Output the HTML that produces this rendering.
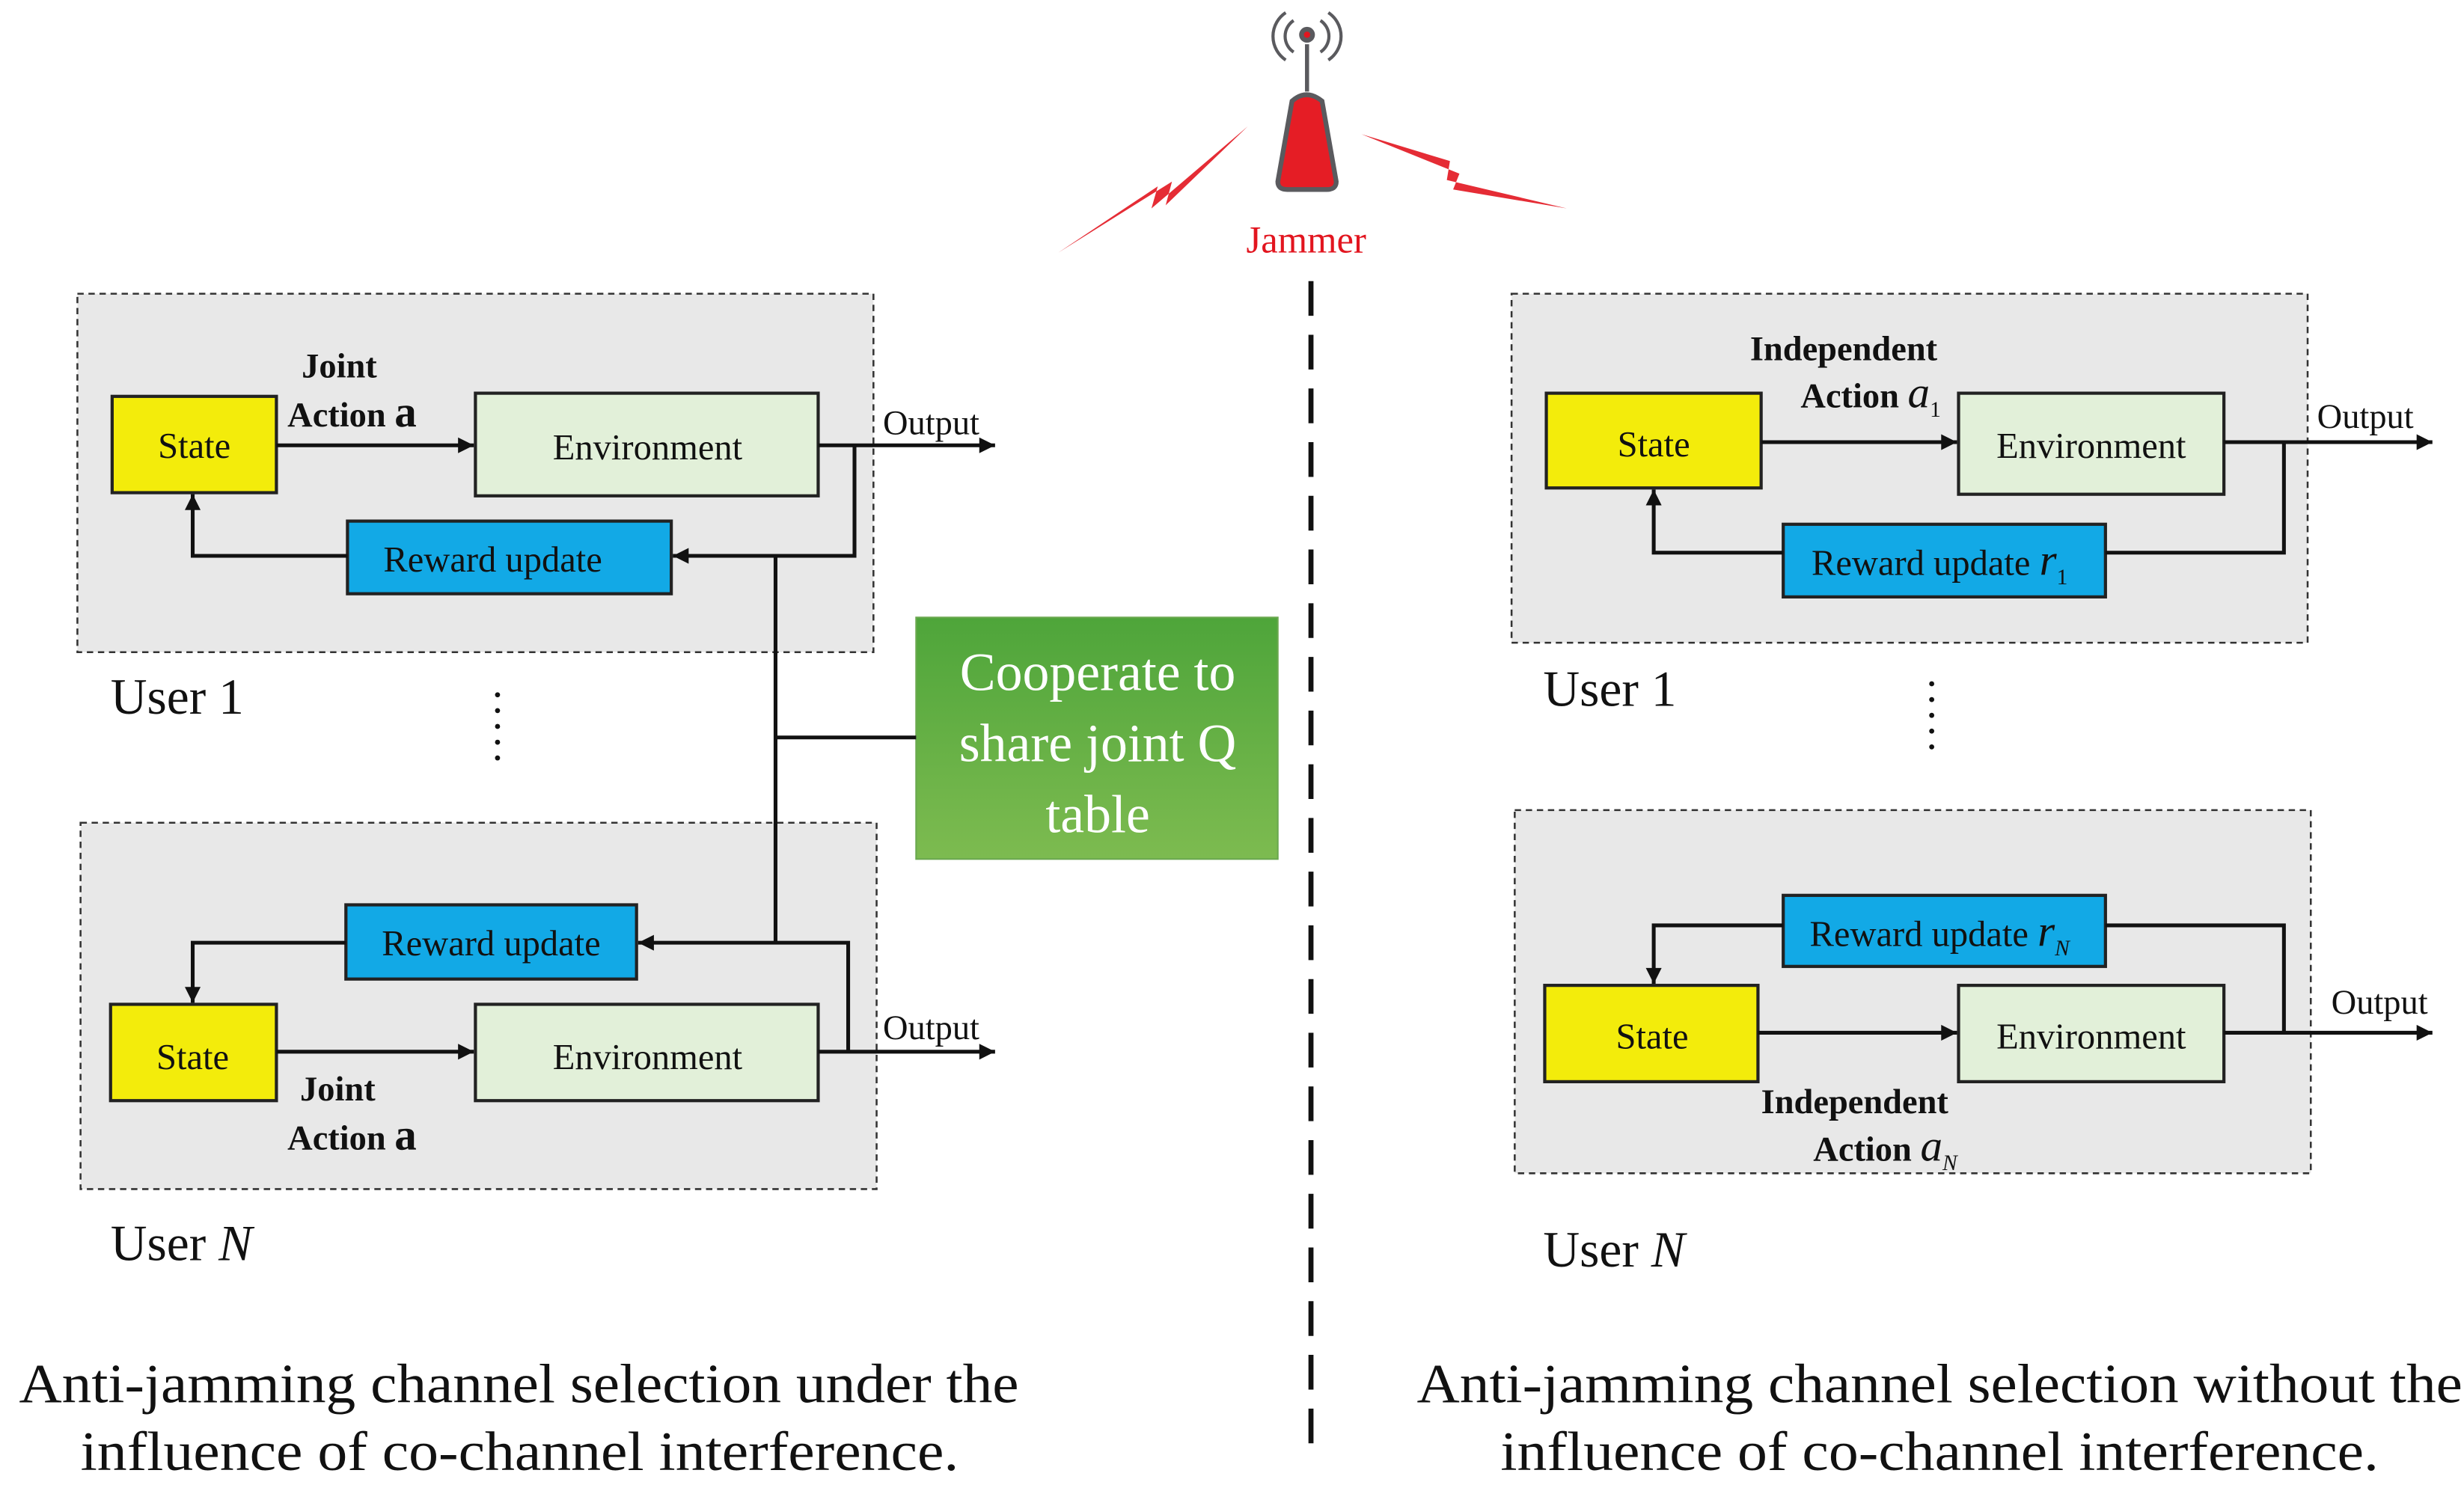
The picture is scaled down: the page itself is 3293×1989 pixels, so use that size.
<!DOCTYPE html>
<html><head><meta charset="utf-8"><style>html,body{margin:0;padding:0;background:#fff}svg{display:block}</style></head>
<body>
<svg width="3293" height="1989" viewBox="0 0 1560 942.3" preserveAspectRatio="none" xmlns="http://www.w3.org/2000/svg" font-family="Liberation Serif, serif">
<defs>
<marker id="ar" viewBox="0 0 10 10" refX="10" refY="5" markerWidth="12" markerHeight="10" markerUnits="userSpaceOnUse" orient="auto"><path d="M0,0L10,5L0,10z" fill="#111"/></marker>
<linearGradient id="gg" x1="0" y1="0" x2="0" y2="1"><stop offset="0" stop-color="#4ea53a"/><stop offset="1" stop-color="#7dbb50"/></linearGradient>
</defs>
<g stroke="#333" stroke-width="1.2" stroke-dasharray="4 3" fill="#e8e8e8">
<rect x="49" y="186" width="504" height="227"/>
<rect x="51" y="521" width="504" height="232"/>
<rect x="957" y="186" width="504" height="221"/>
<rect x="959" y="513" width="504" height="230"/>
</g>
<g stroke="#222" stroke-width="2">
<rect x="71" y="251" width="104" height="61" fill="#f3ec0b"/>
<rect x="301" y="249" width="217" height="65" fill="#e2f0d9"/>
<rect x="220" y="330" width="205" height="46" fill="#12a9e6"/>
<rect x="70" y="636" width="105" height="61" fill="#f3ec0b"/>
<rect x="301" y="636" width="217" height="61" fill="#e2f0d9"/>
<rect x="219" y="573" width="184" height="47" fill="#12a9e6"/>
<rect x="979" y="249" width="136" height="60" fill="#f3ec0b"/>
<rect x="1240" y="249" width="168" height="64" fill="#e2f0d9"/>
<rect x="1129" y="332" width="204" height="46" fill="#12a9e6"/>
<rect x="978" y="624" width="135" height="61" fill="#f3ec0b"/>
<rect x="1240" y="624" width="168" height="61" fill="#e2f0d9"/>
<rect x="1129" y="567" width="204" height="45" fill="#12a9e6"/>
</g>
<rect x="580" y="391" width="229" height="153" fill="url(#gg)" stroke="#6aa84f"/>
<g stroke="#111" stroke-width="2.4" fill="none">
<path d="M175,282H300" marker-end="url(#ar)"/>
<path d="M518,282H630" marker-end="url(#ar)"/>
<path d="M541,282V352H426" marker-end="url(#ar)"/>
<path d="M220,352H122V313" marker-end="url(#ar)"/>
<path d="M491,352V597"/>
<path d="M491,467H580"/>
<path d="M175,666H300" marker-end="url(#ar)"/>
<path d="M518,666H630" marker-end="url(#ar)"/>
<path d="M537,666V597H404" marker-end="url(#ar)"/>
<path d="M219,597H122V635" marker-end="url(#ar)"/>
<path d="M1115,280H1239" marker-end="url(#ar)"/>
<path d="M1408,280H1540" marker-end="url(#ar)"/>
<path d="M1333,350H1446V280"/>
<path d="M1129,350H1047V310" marker-end="url(#ar)"/>
<path d="M1113,654H1239" marker-end="url(#ar)"/>
<path d="M1408,654H1540" marker-end="url(#ar)"/>
<path d="M1333,586H1446V654"/>
<path d="M1129,586H1047V623" marker-end="url(#ar)"/>
</g>
<path d="M830,178V920" stroke="#111" stroke-width="3.2" stroke-dasharray="22 12"/>
<g fill="#111">
<circle cx="315" cy="440" r="1.6"/><circle cx="315" cy="450" r="1.6"/><circle cx="315" cy="460" r="1.6"/><circle cx="315" cy="470" r="1.6"/><circle cx="315" cy="480" r="1.6"/>
<circle cx="1223" cy="433" r="1.6"/><circle cx="1223" cy="443" r="1.6"/><circle cx="1223" cy="453" r="1.6"/><circle cx="1223" cy="463" r="1.6"/><circle cx="1223" cy="473" r="1.6"/>
</g>
<g font-size="23" fill="#111" text-anchor="middle">
<text x="123" y="290">State</text><text x="410" y="291">Environment</text><text x="312" y="362">Reward update</text>
<text x="122" y="677">State</text><text x="410" y="677">Environment</text><text x="311" y="605">Reward update</text>
<text x="1047" y="289">State</text><text x="1324" y="290">Environment</text><text x="1228" y="364">Reward update <tspan font-style="italic" font-size="28">r</tspan><tspan font-size="14" dy="6">1</tspan></text>
<text x="1046" y="664">State</text><text x="1324" y="664">Environment</text><text x="1228" y="599">Reward update <tspan font-style="italic" font-size="28">r</tspan><tspan font-size="14" dy="6" font-style="italic">N</tspan></text>
</g>
<g font-size="22" fill="#111">
<text x="559" y="275">Output</text><text x="559" y="658">Output</text>
<text x="1467" y="271">Output</text><text x="1476" y="642">Output</text>
</g>
<g font-size="22" font-weight="bold" fill="#111">
<text x="191" y="239">Joint</text><text x="182" y="270">Action <tspan font-size="28">a</tspan></text>
<text x="190" y="697">Joint</text><text x="182" y="728">Action <tspan font-size="28">a</tspan></text>
<text x="1108" y="228">Independent</text><text x="1140" y="258">Action <tspan font-weight="normal" font-style="italic" font-size="28">a</tspan><tspan font-weight="normal" font-size="14" dy="6">1</tspan></text>
<text x="1115" y="705">Independent</text><text x="1148" y="735">Action <tspan font-weight="normal" font-style="italic" font-size="28">a</tspan><tspan font-weight="normal" font-style="italic" font-size="14" dy="6">N</tspan></text>
</g>
<g font-size="32" fill="#111">
<text x="70" y="452">User 1</text><text x="70" y="798">User <tspan font-style="italic">N</tspan></text>
<text x="977" y="447">User 1</text><text x="977" y="802">User <tspan font-style="italic">N</tspan></text>
</g>
<g font-size="34" fill="#fff" text-anchor="middle">
<text x="695" y="437">Cooperate to</text><text x="695" y="482">share joint Q</text><text x="695" y="527">table</text>
</g>
<g font-size="35" fill="#111">
<text x="12" y="888" textLength="633" lengthAdjust="spacingAndGlyphs">Anti-jamming channel selection under the</text>
<text x="51" y="931" textLength="556" lengthAdjust="spacingAndGlyphs">influence of co-channel interference.</text>
<text x="897" y="888" textLength="662" lengthAdjust="spacingAndGlyphs">Anti-jamming channel selection without the</text>
<text x="950" y="931" textLength="556" lengthAdjust="spacingAndGlyphs">influence of co-channel interference.</text>
</g>
<text x="827" y="160" font-size="24" fill="#e2151f" text-anchor="middle">Jammer</text>
<g fill="none" stroke="#5a5a5e" stroke-width="2">
<path d="M819,13A12,12 0 0 0 819,33"/><path d="M836,13A12,12 0 0 1 836,33"/>
<path d="M814,8A18,18 0 0 0 814,38"/><path d="M841,8A18,18 0 0 1 841,38"/>
<line x1="827.5" y1="28" x2="827.5" y2="58" stroke-width="2.6"/>
</g>
<circle cx="827.5" cy="22" r="5" fill="#5a5a5e"/><circle cx="827.5" cy="22" r="2" fill="#e2151f"/>
<path d="M818,64Q827,56 837,64L846,115Q846,120 840,120H815Q809,120 809,115Z" fill="#e51d25" stroke="#5a5a5e" stroke-width="3"/>
<g fill="#e2151f" opacity="0.9">
<path d="M670,160L733,118L729,132L790,80L738,130L742,115Z"/>
<path d="M862,85L924,110L920,120L992,132L916,114L918,102Z"/>
</g>
</svg>
</body></html>
